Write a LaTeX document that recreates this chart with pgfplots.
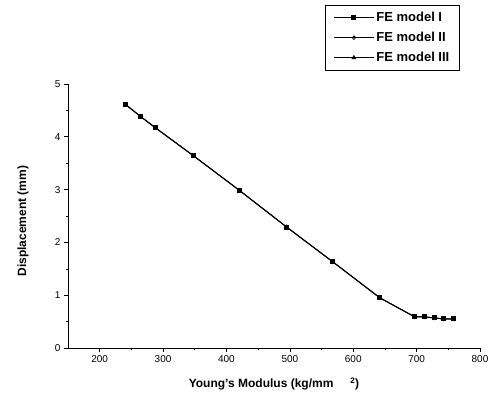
\documentclass[border=0pt]{standalone}
\usepackage{fontspec}
\setmainfont{Liberation Sans}
\usepackage{pgfplots}
\pgfplotsset{compat=1.18}
\begin{document}
\begin{tikzpicture}
\useasboundingbox (-68pt,-48pt) rectangle (424pt,348pt);
\begin{axis}[
  at={(0,0)}, anchor=south west,
  scale only axis, width=412pt, height=264pt,
  xmin=150, xmax=800, ymin=0, ymax=5,
  axis lines=left, axis line style={-, line width=0.8pt},
  xtick={200,300,...,800}, ytick={0,1,...,5},
  minor x tick num=1, minor y tick num=1,
  tick align=outside, major tick length=4pt, minor tick length=2pt,
  tick style={black, line width=0.6pt},
  /pgf/number format/assume math mode=true,
  ticklabel style={font=\fontsize{10}{12}\selectfont},
  xlabel={\bfseries Young's Modulus (kg/mm\hspace{1.4em}\textsuperscript{2})},
  ylabel={\bfseries Displacement (mm)},
  label style={font=\fontsize{12}{14}\selectfont},
  xlabel style={at={(axis description cs:0.5,-0.136)}, anchor=center},
  ylabel style={at={(axis description cs:-0.109,0.48)}, anchor=center},
  legend style={at={(axis description cs:0.624,1.299)}, anchor=north west,
    draw=black, line width=0.6pt, font=\fontsize{13}{15}\selectfont\bfseries,
    inner xsep=8pt, inner ysep=5pt, row sep=5pt, cells={anchor=west}},
  legend image code/.code={\draw[mark repeat=2,mark phase=2,#1] plot coordinates {(0pt,0pt) (20pt,0pt) (40pt,0pt)};},
  legend cell align=left,
]
\addplot[black, line width=1pt, mark=square*, mark size=2pt] coordinates {
 (241,4.61) (265,4.38) (288,4.17) (348,3.64) (421,2.98) (495,2.29)
 (568,1.63) (642,0.95) (697,0.59) (712,0.59) (728,0.57) (742,0.55) (758,0.55)};
\addlegendentry{FE model I}
\addplot[black, line width=0.8pt, mark=o, mark size=1.8pt, mark options={fill=white}, legend image post style={}] coordinates {
 (241,4.61) (265,4.38) (288,4.17) (348,3.64) (421,2.98) (495,2.29)
 (568,1.63) (642,0.95) (697,0.59) (712,0.59) (728,0.57) (742,0.55) (758,0.55)};
\addlegendentry{FE model II}
\addplot[black, line width=0.8pt, mark=triangle*, mark size=2pt] coordinates {
 (241,4.61) (265,4.38) (288,4.17) (348,3.64) (421,2.98) (495,2.29)
 (568,1.63) (642,0.95) (697,0.59) (712,0.59) (728,0.57) (742,0.55) (758,0.55)};
\addlegendentry{FE model III}
\end{axis}
\end{tikzpicture}
\end{document}
